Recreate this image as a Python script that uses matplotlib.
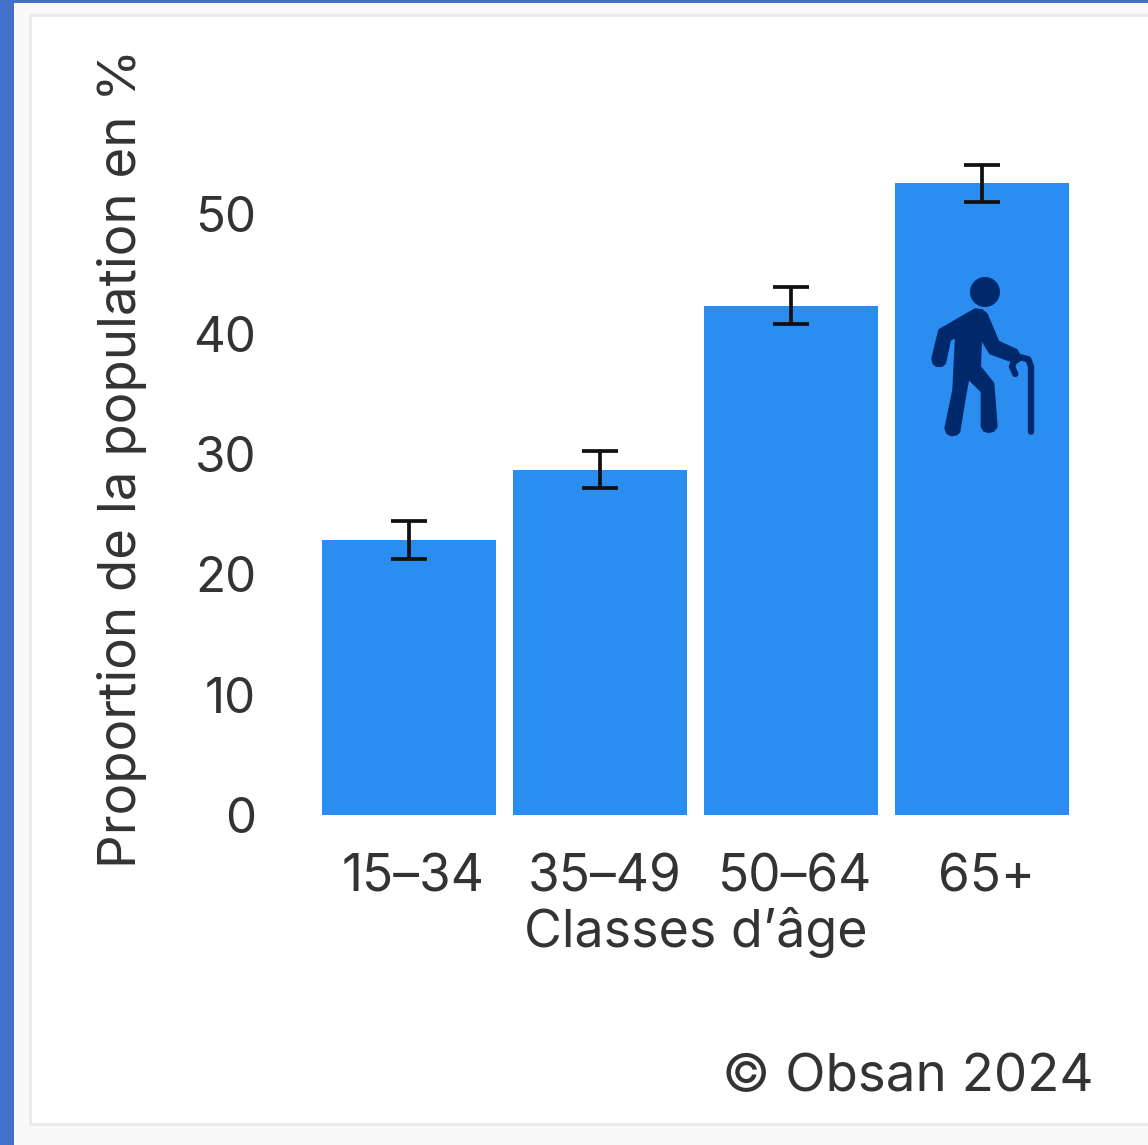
#!/usr/bin/env python3
import matplotlib
matplotlib.use('Agg')
import matplotlib.pyplot as plt
from matplotlib.patches import Rectangle, Circle, Polygon
from matplotlib.transforms import ScaledTranslation

W, H = 1148, 1145

age_groups = ['15–34', '35–49', '50–64', '65+']
values = [22.9, 28.7, 42.3, 52.5]
lower = [21.3, 27.2, 40.8, 50.95]
upper = [24.45, 30.25, 43.85, 54.05]
y_ticks = [0, 10, 20, 30, 40, 50]

plt.rcParams['font.family'] = ['Inter', 'DejaVu Sans']
TEXT = '#333333'
BLUE = '#2b8def'
NAVY = '#00296b'


def px_axes(fig, left, top, right, bottom, **kw):
    return fig.add_axes([left / W, 1 - bottom / H, (right - left) / W, (bottom - top) / H], **kw)


fig = plt.figure(figsize=(W / 100, H / 100), dpi=100, facecolor='#f9f9f9')

# page background, card and icon are drawn in pixel coordinates
bg = fig.add_axes([0, 0, 1, 1], zorder=0)
bg.set_xlim(0, W)
bg.set_ylim(H, 0)
bg.axis('off')
bg.add_patch(Rectangle((0, 0), 14, H, color='#4472c8', lw=0))
bg.add_patch(Rectangle((0, 0), W, 3, color='#4472c8', lw=0))
bg.add_patch(Rectangle((29, 14), W, 1112, facecolor='#ebebeb', lw=0))
bg.add_patch(Rectangle((32, 17), W, 1106, facecolor='white', lw=0))

# bar chart
ax = px_axes(fig, 300, 130, 1090, 815, zorder=1)
ax.patch.set_alpha(0)
x = [0, 1, 2, 3]
ax.bar(x, values, width=0.91, color=BLUE)
ax.errorbar(x, values, yerr=[[v - l for v, l in zip(values, lower)],
                             [u - v for u, v in zip(upper, values)]],
            fmt='none', ecolor='#111111', elinewidth=2.7, capsize=13, capthick=2.7)
ax.set_xlim(-(409 - 300) / 191, (1090 - 409) / 191)
ax.set_ylim(0, 685 / 12.03)
for s in ax.spines.values():
    s.set_visible(False)
ax.set_yticks(y_ticks)
ax.set_xticks(x)
ax.set_xticklabels(age_groups)
ax.tick_params(axis='both', length=0, labelcolor=TEXT)
ax.tick_params(axis='x', pad=27.5, labelsize=37)
ax.tick_params(axis='y', pad=31.5, labelsize=35.5)
shift = ScaledTranslation(4.5 / 100, 0, fig.dpi_scale_trans)
for lab in ax.get_xticklabels():
    lab.set_transform(lab.get_transform() + shift)

fig.text(122 / W, 1 - 458 / H, 'Proportion de la population en %', rotation=90,
         ha='center', va='center', fontsize=38, color=TEXT)
fig.text(696 / W, 1 - 933 / H, 'Classes d’âge', ha='center', va='center',
         fontsize=37.4, color=TEXT)
fig.text(1094 / W, 1 - 1078 / H, '© Obsan 2024', ha='right', va='center',
         fontsize=38, color=TEXT)

# walking figure with a cane, outline points taken from a 3x crop at (900, 150)
body_x = [225, 245, 260, 295, 350, 357, 350, 330, 270, 243, 240, 280, 290, 280, 265, 252, 245, 245,
          205, 195, 178, 170, 155, 142, 136, 160, 168, 150, 135, 125, 110, 100, 97, 118]
body_y = [478, 480, 492, 575, 600, 612, 628, 632, 610, 565, 650, 700, 830, 843, 846, 842, 830, 725,
          685, 740, 845, 853, 856, 850, 835, 720, 560, 570, 640, 648, 648, 640, 625, 540]
cane_x = [393, 393, 385, 362, 342, 336, 346]
cane_y = [845, 650, 628, 622, 635, 650, 672]

icon = fig.add_axes([0, 0, 1, 1], zorder=2)
icon.set_xlim(0, W)
icon.set_ylim(H, 0)
icon.axis('off')
icon.patch.set_alpha(0)
icon.add_patch(Circle((985, 292), 15, color=NAVY, lw=0))
icon.add_patch(Polygon([(900 + a / 3, 150 + b / 3) for a, b in zip(body_x, body_y)],
                       closed=True, facecolor=NAVY, edgecolor=NAVY, lw=1.5, joinstyle='round'))
icon.plot([900 + a / 3 for a in cane_x], [150 + b / 3 for b in cane_y], color=NAVY, lw=4.6,
          solid_capstyle='round', solid_joinstyle='round')

fig.savefig('out.png', dpi=100, facecolor=fig.get_facecolor())
